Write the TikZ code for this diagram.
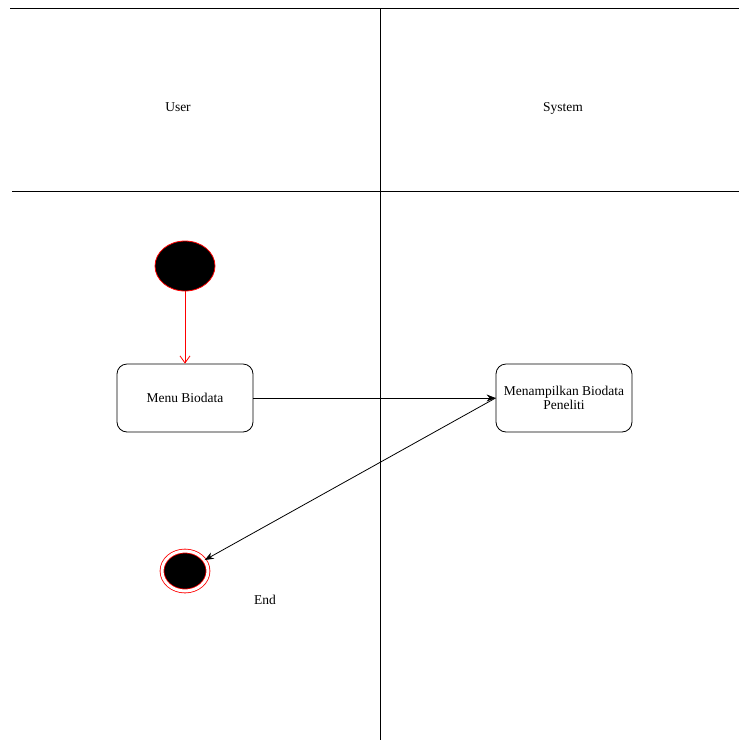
\documentclass[tikz,border=0pt]{standalone}
\usepackage{fontspec}
\setmainfont{Liberation Serif}
\usetikzlibrary{shapes.geometric,arrows.meta}

\tikzset{
  lane/.style={line width=1pt},
  action/.style={draw, rounded corners=10pt, line width=0.8pt,
    minimum width=136pt, minimum height=68pt, align=center},
  flow/.style={line width=0.8pt, -{Stealth[length=9pt,width=7pt]}},
}

\begin{document}
\begin{tikzpicture}[x=1pt, y=-1pt, font=\fontsize{13.5}{16}\selectfont]
\useasboundingbox (0,0) rectangle (739,740);

% Swimlane frame
\draw[lane] (10,8) -- (739,8);
\draw[lane] (12,191) -- (739,191);
\draw[lane] (380,8) -- (380,740);

% Lane titles
\node[anchor=base] (user) at (178,111) {User};
\node[anchor=base] (system) at (563,111) {System};

% Start state
\node[ellipse, draw=red, fill=black, line width=0.8pt,
  minimum width=60pt, minimum height=50pt, inner sep=0pt] (start) at (185,266) {};

% Actions
\node[action] (menu) at (185,398) {Menu Biodata};
\node[action] (show) at (564,398) {Menampilkan Biodata\\[-2pt]Peneliti};

% End state
\node[ellipse, draw=red, double=white, double distance=3pt, fill=black,
  line width=0.8pt, minimum width=46pt, minimum height=40pt, inner sep=0pt] (end) at (185,571) {};
\node (endlabel) at (265,600) {End};

% Flow
\draw[red, line width=0.8pt, -{Straight Barb[length=7pt,width=10pt]}] (start) -- (menu);
\draw[flow] (menu) -- (show);
\draw[flow] (show.west) -- (end);

\end{tikzpicture}
\end{document}
